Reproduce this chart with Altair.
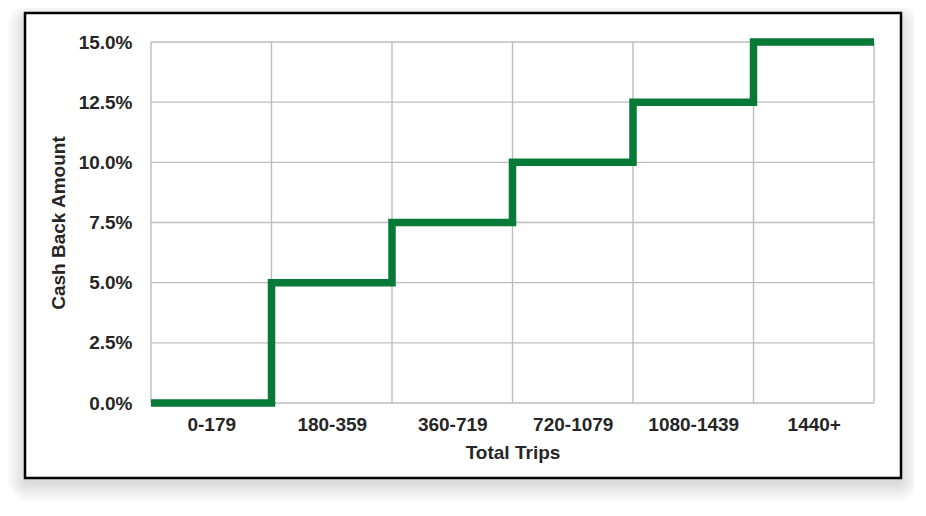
import json
import altair as alt
import pandas as pd

# ---- data ----
categories = ["0-179", "180-359", "360-719", "720-1079", "1080-1439", "1440+"]
cash_back = [0.0, 0.05, 0.075, 0.10, 0.125, 0.15]
y_ticks = [0.0, 0.025, 0.05, 0.075, 0.10, 0.125, 0.15]

W, H = 723, 361
GREEN = "#067A36"
GRID = "#BDBDBD"
TXT = "#262626"
FONT = "Liberation Sans"

# step line: boundary positions 0..6
step_df = pd.DataFrame({
    "pos": list(range(len(categories) + 1)),
    "val": cash_back + [cash_back[-1]],
})
vgrid_df = pd.DataFrame({"pos": list(range(len(categories) + 1))})
hgrid_df = pd.DataFrame({"val": y_ticks})
one = pd.DataFrame({"k": [0]})

xscale = alt.Scale(domain=[0, len(categories)], nice=False, zero=False)
yscale = alt.Scale(domain=[0, 0.15], nice=False)

font_kw = dict(labelFont=FONT, labelFontSize=19, labelFontWeight="bold",
               labelColor=TXT, titleFont=FONT, titleFontSize=19,
               titleFontWeight="bold", titleColor=TXT)

label_expr = json.dumps(categories) + "[floor(datum.value)]"
xaxis = alt.Axis(values=[i + 0.5 for i in range(len(categories))],
                 labelExpr=label_expr, grid=False, ticks=False,
                 domain=False, zindex=1, labelPadding=12, titlePadding=9,
                 **font_kw)
yaxis = alt.Axis(values=y_ticks, format=".1%", grid=False,
                 ticks=False, domain=False, zindex=1,
                 labelPadding=19, titlePadding=10, **font_kw)
XT = "Total Trips"
YT = "Cash Back Amount"

# soft shadow behind frame
shadows = []
for i in range(12):
    g = i * 1.6
    shadows.append(
        alt.Chart(one).mark_rect(
            fill="#000000", opacity=0.011, cornerRadius=3 + g
        ).encode(
            x=alt.value(-126 - g), x2=alt.value(750 + g),
            y=alt.value(-29 - g + 8), y2=alt.value(436 + g + 6),
        )
    )

frame = alt.Chart(one).mark_rect(
    fill="white", stroke="#000000", strokeWidth=2.5
).encode(
    x=alt.value(-126), x2=alt.value(750), y=alt.value(-29), y2=alt.value(436)
)

vgrid = alt.Chart(vgrid_df).mark_rule(color=GRID, strokeWidth=1.4).encode(
    x=alt.X("pos:Q", scale=xscale, axis=xaxis, title=XT),
    y=alt.value(0), y2=alt.value(H),
)

hgrid = alt.Chart(hgrid_df).mark_rule(color=GRID, strokeWidth=1.4).encode(
    y=alt.Y("val:Q", scale=yscale, axis=yaxis, title=YT),
    x=alt.value(0), x2=alt.value(W),
)

step = alt.Chart(step_df).mark_line(
    color=GREEN, strokeWidth=7.5, interpolate="step-after",
    strokeJoin="miter", strokeCap="butt"
).encode(
    x=alt.X("pos:Q", scale=xscale, axis=xaxis, title=XT),
    y=alt.Y("val:Q", scale=yscale, axis=yaxis, title=YT),
)

chart = alt.layer(*shadows, frame, vgrid, hgrid, step).properties(
    width=W, height=H,
    autosize=alt.AutoSizeParams(type="none"),
    padding={"left": 143, "top": 34, "right": 40, "bottom": 100},
    background="white",
).configure_view(stroke=None)

chart.save("out.html", embed_options={"renderer": "svg", "actions": False})
